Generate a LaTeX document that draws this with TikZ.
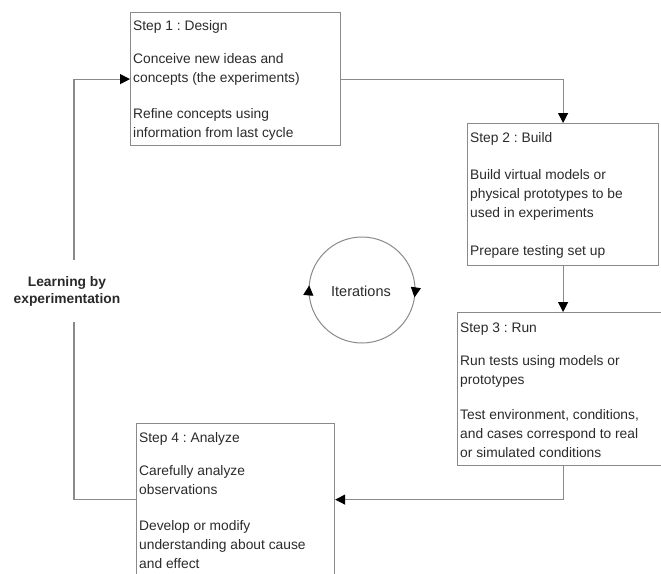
\documentclass[tikz,border=0pt]{standalone}
\usepackage{fontspec}
\setmainfont{Liberation Sans}
\usetikzlibrary{arrows.meta,calc}
\definecolor{linegray}{HTML}{8A8A8A}
\definecolor{inkgray}{HTML}{2A2A2A}
\frenchspacing
\begin{document}
\begin{tikzpicture}[x=1pt,y=-1pt,
  stepbox/.style={draw=linegray, line width=1.2pt, rectangle, inner sep=0pt, anchor=north west},
  steptext/.style={anchor=north west, inner sep=0pt, align=left, text=inkgray,
    font=\fontsize{13.8}{19}\selectfont},
  link/.style={draw=linegray, line width=1.2pt},
  tip/.style={-{Triangle[length=10pt,width=10pt,fill=black,color=black]}},
]
\useasboundingbox (0,0) rectangle (661,573);
\clip (0,0) rectangle (661,573);

% step boxes
\node[stepbox, minimum width=210, minimum height=133] (s1) at (130,12) {};
\node[stepbox, minimum width=191, minimum height=142] (s2) at (467,123) {};
\node[stepbox, minimum width=212, minimum height=153] (s3) at (457,312) {};
\node[stepbox, minimum width=198, minimum height=152] (s4) at (136,423) {};

% box contents
\node[steptext] (t1) at ($(s1.north west)+(3,8.5)$)
  {Step 1 : Design\\[14pt]
   Conceive new ideas and\\
   concepts (the experiments)\\[17pt]
   Refine concepts using\\
   information from last cycle};
\node[steptext] (t2) at ($(s2.north west)+(3,9)$)
  {Step 2 : Build\\[18pt]
   Build virtual models or\\
   physical prototypes to be\\
   used in experiments\\[19pt]
   Prepare testing set up};
\node[steptext] (t3) at ($(s3.north west)+(3,11)$)
  {Step 3 : Run\\[14pt]
   Run tests using models or\\
   prototypes\\[16pt]
   Test environment, conditions,\\
   and cases correspond to real\\
   or simulated conditions};
\node[steptext] (t4) at ($(s4.north west)+(3,9)$)
  {Step 4 : Analyze\\[14pt]
   Carefully analyze\\
   observations\\[17pt]
   Develop or modify\\
   understanding about cause\\
   and effect};

% flow between the steps
\draw[link, tip] (s1.east) -| (s2.north);
\draw[link, tip] (s2.south) -- (s2.south |- s3.north);
\draw[link, tip] (s2.south |- s3.south) |- (s4.east);

% feedback rail with its label
\node[font=\bfseries\fontsize{13.8}{17}\selectfont, align=center, text=inkgray, inner sep=0pt]
  (learn) at (67,291) {Learning by\\experimentation};
\coordinate (rail) at (74,0);
\draw[link] (s4.west) -| ($(rail |- learn.south)+(0,16)$);
\draw[link, tip] ($(rail |- learn.north)+(0,-16)$) |- (s1.west);

% iteration cycle
\coordinate (cyc) at (362,290);
\draw[link, line width=1pt] (cyc) circle[radius=53];
\node[font=\fontsize{14.5}{17}\selectfont, text=inkgray] (iter) at (361,291) {Iterations};
\draw[link, line width=1pt, tip] ([shift={(173:53)}]cyc) arc[start angle=173, end angle=185, radius=53];
\draw[link, line width=1pt, tip] ([shift={(-4:53)}]cyc) arc[start angle=-4, end angle=8, radius=53];
\end{tikzpicture}
\end{document}
